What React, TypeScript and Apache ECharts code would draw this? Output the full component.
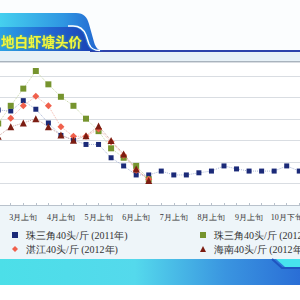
import React, { useEffect, useRef } from "react";
import * as echarts from "echarts";

const categories = [
  "2月中旬", "2月下旬", "3月上旬", "3月中旬", "3月下旬", "4月上旬", "4月中旬", "4月下旬",
  "5月上旬", "5月中旬", "5月下旬", "6月上旬", "6月中旬", "6月下旬", "7月上旬", "7月中旬",
  "7月下旬", "8月上旬", "8月中旬", "8月下旬", "9月上旬", "9月中旬", "10月上旬", "10月下旬",
  "11月上旬", "11月中旬",
];

const seriesNames = [
  "珠三角40头/斤 (2011年)",
  "珠三角40头/斤 (2012年)",
  "湛江40头/斤 (2012年)",
  "海南40头/斤 (2012年)",
];

const zhusanjiao2011 = [22.1, 21.9, 24.3, 22.3, 19.1, 16.2, 15.1, 14.1, 14.1, 11.0, 9.1, 7.0, 7.0, 7.9, 7.0, 7.0, 7.5, 7.9, 9.1, 8.4, 7.9, 7.9, 7.9, 9.1, 7.9, null];
const zhusanjiao2012 = [19.0, 23.1, 27.1, 31.2, 28.1, 25.2, 23.1, 20.1, 17.2, 13.2, 11.0, 9.1, 6.0, null, null, null, null, null, null, null, null, null, null, null, null, null];
const zhanjiang2012 = [null, 20.2, 23.1, 25.3, 23.1, 18.2, 16.0, 16.0, 17.7, 14.7, 11.6, 8.1, 6.0, null, null, null, null, null, null, null, null, null, null, null, null, null];
const hainan2012 = [16.0, 18.2, 19.1, 20.1, 18.2, 16.3, 15.1, 16.1, 18.4, 15.0, 11.9, 8.4, 5.7, null, null, null, null, null, null, null, null, null, null, null, null, null];

const title = "地白虾塘头价";

let registered = false;
function registerShapes() {
  if (registered) return;
  registered = true;
  echarts.graphic.registerShape(
    "bannerOuter",
    echarts.graphic.extendPath("M0,13 L76,13 C84,13 87,17 89,24 L94,42 C96,49 99,51 106,51 L0,51 Z", {})
  );
  echarts.graphic.registerShape(
    "bannerInner",
    echarts.graphic.extendPath("M0,27 L72,27 C78,27 82,30 84,35 L87,44 C89,49 92,51 98,51 L0,51 Z", {})
  );
  echarts.graphic.registerShape(
    "bannerCurve",
    echarts.graphic.extendPath("M68,26 L73,26 C80,26 84,30 86,35 L89,44 C91,49 94,50.5 100,50.5", {})
  );
}

export default function App() {
  const ref = useRef<HTMLDivElement>(null);

  useEffect(() => {
    if (!ref.current) return;
    registerShapes();
    const chart = echarts.init(ref.current, undefined, { renderer: "svg" });
    const markerSeries = (
      name: string,
      data: (number | null)[],
      symbol: string,
      size: number,
      color: string,
      lineColor: string
    ) => ({
      name,
      type: "line",
      data,
      symbol,
      symbolSize: size,
      showSymbol: true,
      itemStyle: { color },
      lineStyle: { type: "dotted", width: 1, color: lineColor },
      emphasis: { disabled: true },
    });

    const legendText = { fontSize: 10, color: "#333", fontFamily: "serif", padding: [0, 0, 0, 3] };

    chart.setOption({
      animation: false,
      backgroundColor: "#eef5f9",
      grid: {
        left: -1.8,
        width: 313.6,
        top: 62,
        height: 143,
        show: true,
        backgroundColor: "#ffffff",
        borderWidth: 0,
        containLabel: false,
        outerBoundsMode: "none",
      },
      xAxis: {
        type: "category",
        data: categories,
        boundaryGap: false,
        axisLine: { lineStyle: { color: "#b9c2cc", width: 1 } },
        axisTick: { show: true, inside: true, length: 2, interval: 0, lineStyle: { color: "#b9c2cc" } },
        axisLabel: {
          interval: (idx: number) => idx % 3 === 2,
          fontSize: 8,
          color: "#333",
          fontFamily: "serif",
          margin: 8,
        },
        splitLine: { show: false },
      },
      yAxis: {
        type: "value",
        min: 0,
        max: 33.3,
        interval: 5,
        axisLabel: { show: false },
        axisLine: { show: false },
        axisTick: { show: false },
        splitLine: { lineStyle: { color: "#d9dde2", width: 1 } },
      },
      legend: [
        {
          left: 12,
          top: 230,
          padding: 0,
          orient: "vertical",
          itemGap: 4,
          itemWidth: 6,
          itemHeight: 6,
          data: [
            { name: seriesNames[0], icon: "rect" },
            { name: seriesNames[2], icon: "diamond" },
          ],
          textStyle: legendText,
        },
        {
          left: 200,
          top: 230,
          padding: 0,
          orient: "vertical",
          itemGap: 4,
          itemWidth: 6,
          itemHeight: 6,
          data: [
            { name: seriesNames[1], icon: "rect" },
            { name: seriesNames[3], icon: "triangle" },
          ],
          textStyle: legendText,
        },
      ],
      series: [
        markerSeries(seriesNames[0], zhusanjiao2011, "rect", 5, "#1b2a78", "#aab6d6"),
        markerSeries(seriesNames[1], zhusanjiao2012, "rect", 6, "#76942e", "#c8d6a6"),
        markerSeries(seriesNames[2], zhanjiang2012, "diamond", 7, "#f0604c", "#f4b8ad"),
        markerSeries(seriesNames[3], hainan2012, "triangle", 7, "#7c1d12", "#cda39c"),
      ],
      graphic: [
        { type: "rect", x: 0, y: 0, shape: { width: 300, height: 51 }, style: { fill: "#fbfdfe" }, silent: true },
        { type: "rect", x: 0, y: 51, shape: { width: 300, height: 10 }, style: { fill: "#e7f1f7" }, silent: true },
        { type: "rect", x: 0, y: 61, shape: { width: 300, height: 1.5 }, style: { fill: "#a9b3bd" }, silent: true },
        { type: "rect", x: 90, y: 50, shape: { width: 210, height: 2 }, style: { fill: "#2d43ab" }, silent: true },
        {
          type: "bannerOuter",
          x: 0,
          y: 0,
          silent: true,
          style: {
            fill: new echarts.graphic.LinearGradient(0, 0, 1, 0, [
              { offset: 0, color: "#45d0ef" },
              { offset: 0.6, color: "#2f96e2" },
              { offset: 1, color: "#1f5ccc" },
            ]),
          },
        },
        {
          type: "bannerInner",
          x: 0,
          y: 0,
          silent: true,
          style: {
            fill: new echarts.graphic.LinearGradient(0, 0, 1, 0, [
              { offset: 0, color: "#2ba2e6" },
              { offset: 0.5, color: "#2266d2" },
              { offset: 1, color: "#1a3db0" },
            ]),
          },
        },
        {
          type: "bannerCurve",
          x: 0,
          y: 0,
          silent: true,
          style: { fill: "none", stroke: "#ffffff", lineWidth: 1.5 },
        },
        {
          type: "text",
          x: 1,
          y: 41,
          silent: true,
          style: {
            text: title,
            fill: "#f2f63c",
            fontSize: 13.5,
            fontWeight: "bold",
            fontFamily: "Noto Sans CJK SC",
            verticalAlign: "middle",
            textShadowColor: "rgba(120,200,60,0.8)",
            textShadowBlur: 2,
          },
        },
        {
          type: "rect",
          x: 0,
          y: 259,
          silent: true,
          shape: { width: 300, height: 26 },
          style: {
            fill: new echarts.graphic.LinearGradient(0, 0, 1, 0, [
              { offset: 0, color: "#4cdfe8" },
              { offset: 0.45, color: "#54d9ec" },
              { offset: 0.75, color: "#3a95e0" },
              { offset: 1, color: "#2a6ed6" },
            ]),
          },
        },
        {
          type: "polygon",
          silent: true,
          shape: { points: [[276, 259], [300, 259], [300, 267], [285, 267]] },
          style: { fill: "#47e3ee" },
        },
        {
          type: "polyline",
          silent: true,
          shape: { points: [[272, 259], [282, 268], [300, 268]] },
          style: { stroke: "#1f54c0", lineWidth: 2, fill: "none" },
        },
        { type: "rect", x: 0, y: 285, shape: { width: 300, height: 15 }, style: { fill: "#ffffff" }, silent: true },
      ],
    });
    return () => chart.dispose();
  }, []);

  return (
    <div
      ref={ref}
      style={{ position: "fixed", left: 0, top: 0, width: 300, height: 300 }}
    />
  );
}
